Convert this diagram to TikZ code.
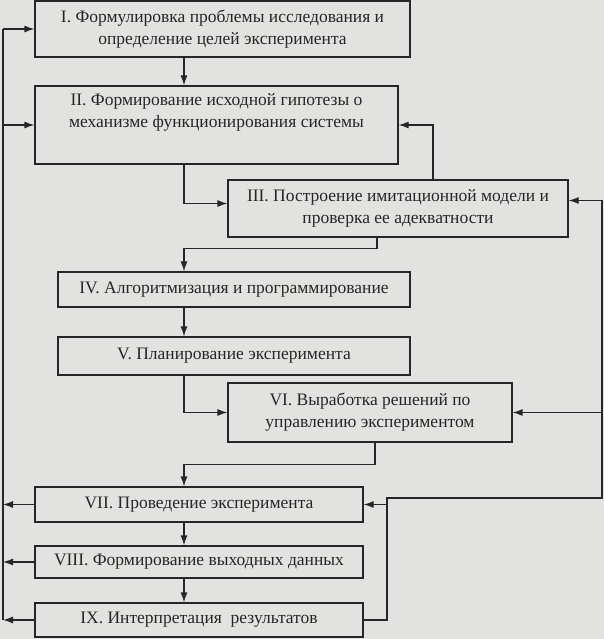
\documentclass[tikz,border=0pt]{standalone}
\usepackage[rgb]{xcolor}
\usepackage{fontspec}
\setmainfont{Liberation Serif}
\usepackage{tikz}
\usetikzlibrary{arrows.meta}

\definecolor{paper}{RGB}{226,226,224}
\definecolor{ink}{RGB}{38,38,38}

\tikzset{
  stage/.style={draw=ink, line width=1.2pt, inner sep=0pt, align=center,
    text=ink, font=\fontsize{17.5}{22}\selectfont},
  link/.style={draw=ink, line width=1.2pt},
}

\begin{document}
\begin{tikzpicture}[x=1pt, y=-1pt, >={Latex[length=10pt,width=7pt]}]

% paper
\fill[paper] (0,0) rectangle (604,639);
\useasboundingbox (0,0) rectangle (604,639);

%% stages
\node[stage, minimum width=375, minimum height=56] (problem) at (222.5,29)
  {I. Формулировка проблемы исследования и\\определение целей эксперимента};
\node[stage, minimum width=363, minimum height=78] (hypothesis) at (216.5,125)
  {II. Формирование исходной гипотезы о\\механизме функционирования системы\\\strut};
\node[stage, minimum width=340, minimum height=57] (model) at (398,208.5)
  {III. Построение имитационной модели и\\проверка ее адекватности};
\node[stage, minimum width=352, minimum height=35] (algorithm) at (234,289.5)
  {IV. Алгоритмизация и программирование};
\node[stage, minimum width=352, minimum height=38] (planning) at (234,356)
  {V. Планирование эксперимента};
\node[stage, minimum width=284, minimum height=59] (decisions) at (370,412.5)
  {VI. Выработка решений по\\управлению экспериментом};
\node[stage, minimum width=328, minimum height=35] (running) at (199,504.5)
  {VII. Проведение эксперимента};
\node[stage, minimum width=328, minimum height=32] (output) at (199,562)
  {VIII. Формирование выходных данных};
\node[stage, minimum width=328, minimum height=34] (interpret) at (199,620)
  {IX. Интерпретация\ \ результатов};

% spines and taps
\coordinate (mid) at (184,0);
\coordinate (lspine) at (3,0);
\coordinate (rspine) at (602,0);
\coordinate (mtap) at (377,0);
\coordinate (dtap) at (375,0);
\coordinate (jcorner) at (387,498);
\coordinate (mhook) at ([yshift=8pt]model.east);

%% main flow
\draw[link, ->] (mid |- problem.south) -- (mid |- hypothesis.north);
\draw[link, ->] (mid |- hypothesis.south) |- ([yshift=5pt]model.west);
\draw[link, ->] (mtap |- model.south) -- ++(0,11) -| (mid |- algorithm.north);
\draw[link, ->] (mid |- algorithm.south) -- (mid |- planning.north);
\draw[link, ->] (mid |- planning.south) |- (decisions.west);
\draw[link, ->] (dtap |- decisions.south) -- ++(0,22) -| (mid |- running.north);
\draw[link, ->] (mid |- running.south) -- (mid |- output.north);
\draw[link, ->] (mid |- output.south) -- (mid |- interpret.north);

%% left feedback
\draw[link] (lspine |- problem.west) -- (lspine |- interpret.west);
\draw[link, ->] (lspine |- problem.west) -- (problem.west);
\draw[link, ->] (lspine |- hypothesis.west) -- (hypothesis.west);
\draw[link, ->] (running.west) -- (lspine |- running.west);
\draw[link, ->] (output.west) -- (lspine |- output.west);
\draw[link, ->] (interpret.west) -- (lspine |- interpret.west);

%% right feedback
\draw[link, ->] (model.north -| 433,0) |- (hypothesis.east);
\draw[link, ->] (interpret.east) -| (jcorner) -| (mhook -| rspine) -- (mhook);
\draw[link, ->] (rspine |- decisions.east) -- (decisions.east);
\draw[link, ->] (jcorner |- running.east) -- (running.east);

\end{tikzpicture}
\end{document}
